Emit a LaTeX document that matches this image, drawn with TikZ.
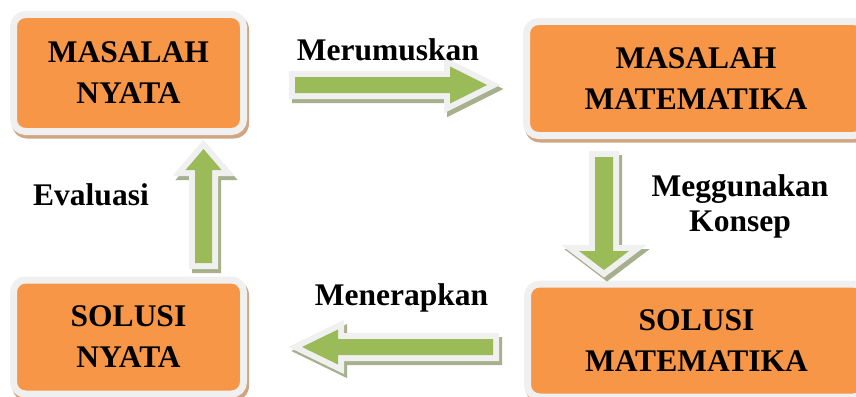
\documentclass[tikz,border=0pt]{standalone}
\usepackage{fontspec}
\setmainfont{Liberation Serif}
\usetikzlibrary{calc,backgrounds}
\definecolor{boxorange}{HTML}{F79646}
\definecolor{boxgray}{HTML}{F0F0F0}
\definecolor{boxshadow}{RGB}{208,166,130}
\definecolor{arrgreen}{HTML}{9BBB59}
\definecolor{arrgray}{HTML}{F0F0F0}
\definecolor{arrshadow}{RGB}{166,176,140}
\newcommand\blockarr[6]{%
  \path ($(#2)!#5!(#1)$) coordinate (bh);
  \path[#6] ($(#1)!#3!90:(#2)$) -- ($(bh)!#3!90:(#2)$) -- ($(bh)!#4!90:(#2)$) -- (#2)
    -- ($(bh)!#4!-90:(#2)$) -- ($(bh)!#3!-90:(#2)$) -- ($(#1)!#3!-90:(#2)$) -- cycle;}
\newcommand\fullarr[5]{%
  \begin{scope}[transform canvas={shift={(3,4)}}]
    \blockarr{#1}{#2}{#3}{#4}{#5}{fill=arrshadow, draw=arrshadow, line width=12pt, line join=miter}
  \end{scope}
  \blockarr{#1}{#2}{#3}{#4}{#5}{fill=arrgray, draw=arrgray, line width=12pt, line join=miter}
  \blockarr{#1}{#2}{#3}{#4}{#5}{fill=arrgreen}}
\tikzset{
  box/.style={fill=boxorange, draw=boxgray, line width=7pt, rounded corners=12pt,
    outer sep=0pt, inner sep=0pt, align=center,
    font=\bfseries\fontsize{31.5}{41}\selectfont},
  lbl/.style={font=\bfseries\fontsize{31.5}{35}\selectfont, inner sep=0pt, align=center}
}
\begin{document}
\begin{tikzpicture}[x=1pt,y=-1pt]
\useasboundingbox (0,0) rectangle (856,396);
\node[box, minimum width=230pt, minimum height=117pt] (mn) at (128.5,73) {MASALAH\\NYATA};
\node[box, minimum width=339pt, minimum height=114pt] (mm) at (696,78.5) {MASALAH\\MATEMATIKA};
\node[box, minimum width=230pt, minimum height=114pt] (sn) at (128.5,337) {SOLUSI\\NYATA};
\node[box, minimum width=338pt, minimum height=113pt] (sm) at (696.5,340.5) {SOLUSI\\MATEMATIKA};
\begin{scope}[on background layer]
  \foreach \b in {mn,mm,sn,sm}
    \fill[boxshadow, rounded corners=15pt] ($(\b.north west)+(-1.5,0)$) rectangle ($(\b.south east)+(5.5,7)$);
\end{scope}
% arrows
\coordinate (r1) at (295,85);   \coordinate (r2) at (487,85);
\coordinate (d1) at (604,157);  \coordinate (d2) at (604,270);
\coordinate (l1) at (493,347);  \coordinate (l2) at (302,347);
\coordinate (u1) at (203.5,263); \coordinate (u2) at (203.5,149);
\fullarr{r1}{r2}{8pt}{18.5pt}{37pt}
\fullarr{d1}{d2}{9pt}{25pt}{19pt}
\fullarr{l1}{l2}{8pt}{17.5pt}{36pt}
\fullarr{u1}{u2}{8.5pt}{18pt}{21pt}
% labels
\node[lbl, anchor=base] (t1) at (388,60) {Merumuskan};
\node[lbl] (t2) at (740,206) {Meggunakan\\Konsep};
\node[lbl, anchor=base] (t3) at (401.5,305) {Menerapkan};
\node[lbl, anchor=base] (t4) at (91,205) {Evaluasi};
\end{tikzpicture}
\end{document}
